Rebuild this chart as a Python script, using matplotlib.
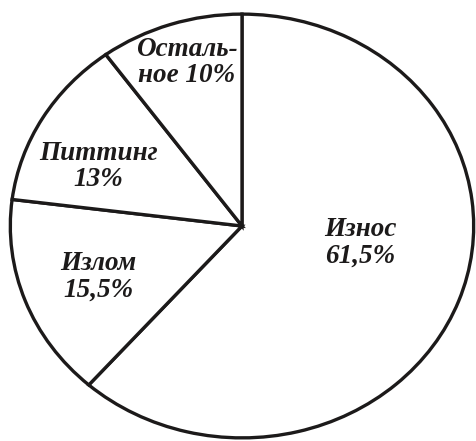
"""Failure modes share: pie chart with labels inside slices."""

import matplotlib.pyplot as plt

labels = ["Износ\n61,5%", "Излом\n15,5%", "Питтинг\n13%", "Осталь-\nное 10%"]
shares = [61.5, 15.5, 13.0, 10.0]
# label anchor points in pie coordinates (radius 1)
label_xy = [(0.51, -0.08), (-0.62, -0.24), (-0.62, 0.28), (-0.24, 0.77)]

INK = "#1c1a1a"
W, H = 477, 441

fig = plt.figure(figsize=(W / 100, H / 100), dpi=100)
# the pie is drawn slightly wider than tall
ax = fig.add_axes([8 / W, 1 / H, 468 / W, 428 / H])

ax.pie(
    shares,
    startangle=90,
    counterclock=False,
    colors=["white"] * len(shares),
    wedgeprops=dict(edgecolor=INK, linewidth=2.4),
)
ax.set_aspect("auto")
ax.set_xlim(-1.01, 1.01)
ax.set_ylim(-1.01, 1.01)

for text, (x, y) in zip(labels, label_xy):
    ax.text(x, y, text, ha="center", va="center", color=INK,
            family="Liberation Serif", style="italic", weight="bold",
            fontsize=19.5, linespacing=1.05)

fig.savefig("out.png", dpi=100)
